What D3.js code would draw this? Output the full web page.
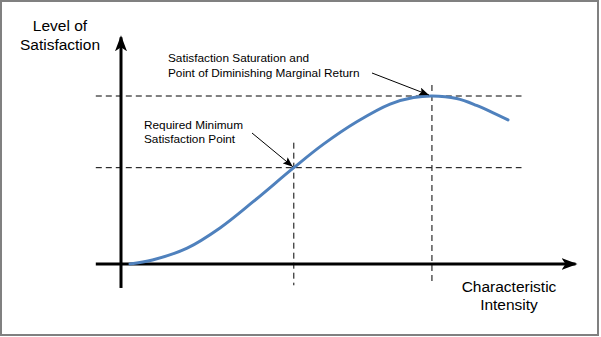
<!DOCTYPE html>
<html>
<head>
<meta charset="utf-8">
<script src="https://cdn.jsdelivr.net/npm/d3@7"></script>
<style>
  html, body { margin: 0; padding: 0; background: #fff; }
  svg { display: block; font-family: "Liberation Sans", Arial, sans-serif; }
</style>
</head>
<body>
<svg id="chart" width="601" height="337"></svg>
<script>
// ── Data ──────────────────────────────────────────────────────────────────────
const intensity    = [2, 7, 14.7, 22, 29.3, 38.4, 45, 52.4, 59.8, 65, 69.1, 74.6, 79, 86];
const satisfaction = [0, 1.8, 7.1, 16.1, 27.7, 43, 53.5, 63.5, 71.4, 74.3, 75, 73.9, 70.8, 64.3];

const requiredPoint = { x: 38.4, y: 43 };
const peakPoint     = { x: 69.1, y: 75 };

const yTitle    = ["Level of", "Satisfaction"];
const xTitle    = ["Characteristic", "Intensity"];
const peakNote  = ["Satisfaction Saturation and", "Point of Diminishing Marginal Return"];
const minNote   = ["Required Minimum", "Satisfaction Point"];

// ── Setup ─────────────────────────────────────────────────────────────────────
const svg = d3.select("#chart");
const W = 601, H = 337;

const x = d3.scaleLinear().domain([0, 100]).range([121, 571]);
const y = d3.scaleLinear().domain([0, 100]).range([264, 40]);

// frame
svg.append("rect")
  .attr("x", 1).attr("y", 1).attr("width", W - 4).attr("height", H - 3)
  .attr("fill", "#fff").attr("stroke", "#808080").attr("stroke-width", 2);

const defs = svg.append("defs");
defs.append("marker")
  .attr("id", "axisHead").attr("viewBox", "0 0 16 12")
  .attr("refX", 14).attr("refY", 6)
  .attr("markerWidth", 16).attr("markerHeight", 12)
  .attr("markerUnits", "userSpaceOnUse").attr("orient", "auto")
  .append("path").attr("d", "M0,0 L16,6 L0,12 L4,6 Z").attr("fill", "#000");
defs.append("marker")
  .attr("id", "noteHead").attr("viewBox", "0 0 10 8")
  .attr("refX", 10).attr("refY", 4)
  .attr("markerWidth", 10).attr("markerHeight", 8)
  .attr("markerUnits", "userSpaceOnUse").attr("orient", "auto")
  .append("path").attr("d", "M0,0 L10,4 L0,8 L2,4 Z").attr("fill", "#000");

// ── Guide lines ───────────────────────────────────────────────────────────────
const guides = svg.append("g")
  .attr("stroke", "#000").attr("stroke-width", 1).attr("stroke-dasharray", "6,4")
  .attr("fill", "none");

[requiredPoint, peakPoint].forEach(p => {
  guides.append("line")
    .attr("x1", x(-5.6)).attr("x2", x(89))
    .attr("y1", y(p.y)).attr("y2", y(p.y));
});
guides.append("line")
  .attr("x1", x(requiredPoint.x)).attr("x2", x(requiredPoint.x))
  .attr("y1", y(requiredPoint.y) - 25).attr("y2", y(-9.5));
guides.append("line")
  .attr("x1", x(peakPoint.x)).attr("x2", x(peakPoint.x))
  .attr("y1", y(peakPoint.y) - 11).attr("y2", y(-8.5));

// ── Axes ──────────────────────────────────────────────────────────────────────
svg.append("line")
  .attr("x1", x(0)).attr("x2", x(0))
  .attr("y1", y(-10.7)).attr("y2", y(101.2))
  .attr("stroke", "#000").attr("stroke-width", 3)
  .attr("marker-end", "url(#axisHead)");
svg.append("line")
  .attr("x1", x(-5.6)).attr("x2", x(101))
  .attr("y1", y(0)).attr("y2", y(0))
  .attr("stroke", "#000").attr("stroke-width", 3)
  .attr("marker-end", "url(#axisHead)");

// ── Curve ─────────────────────────────────────────────────────────────────────
const pts = intensity.map((d, i) => [d, satisfaction[i]]);
svg.append("path")
  .datum(pts)
  .attr("fill", "none")
  .attr("stroke", "#4f81bd")
  .attr("stroke-width", 3)
  .attr("stroke-linecap", "round")
  .attr("d", d3.line().x(d => x(d[0])).y(d => y(d[1])).curve(d3.curveCatmullRom.alpha(0.5)));

// ── Annotation arrows ─────────────────────────────────────────────────────────
svg.append("line")
  .attr("x1", 252).attr("y1", 133)
  .attr("x2", x(requiredPoint.x) - 1).attr("y2", y(requiredPoint.y) - 1)
  .attr("stroke", "#000").attr("stroke-width", 1)
  .attr("marker-end", "url(#noteHead)");
svg.append("line")
  .attr("x1", 372).attr("y1", 73)
  .attr("x2", x(peakPoint.x) - 3).attr("y2", y(peakPoint.y) - 1)
  .attr("stroke", "#000").attr("stroke-width", 1)
  .attr("marker-end", "url(#noteHead)");

// ── Text ──────────────────────────────────────────────────────────────────────
function block(lines, cx, y0, lh, size, anchor) {
  const t = svg.append("text")
    .attr("font-size", size).attr("fill", "#000")
    .attr("text-anchor", anchor);
  lines.forEach((s, i) => t.append("tspan").attr("x", cx).attr("y", y0 + i * lh).text(s));
}
block(yTitle, 60, 31, 19, 15.5, "middle");
block(xTitle, 509, 292, 18, 15.5, "middle");
block(peakNote, 168, 62, 15, 11.8, "start");
block(minNote, 144, 129, 14, 11.8, "start");
</script>
</body>
</html>
